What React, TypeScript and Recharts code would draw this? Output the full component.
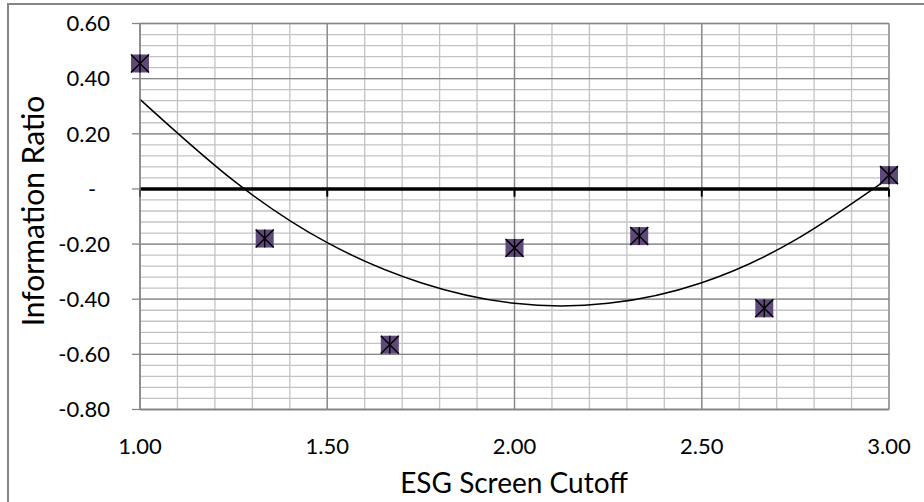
import React from "react";
import { ComposedChart, Scatter, Line, XAxis, YAxis, CartesianGrid, ReferenceLine } from "recharts";

// observed information ratios per ESG screen cutoff
const cutoffs = [1.0, 1.333, 1.667, 2.0, 2.333, 2.667, 3.0];
const infoRatio = [0.455, -0.18, -0.565, -0.214, -0.171, -0.433, 0.05];

// polynomial trendline
const trendX = [1.0, 1.25, 1.5, 1.75, 2.0, 2.25, 2.5, 2.75, 3.0];
const trendY = [0.325, 0.03, -0.195, -0.34, -0.415, -0.415, -0.34, -0.185, 0.04];

const xTicks = [1.0, 1.5, 2.0, 2.5, 3.0];
const yTicks = [0.6, 0.4, 0.2, 0, -0.2, -0.4, -0.6, -0.8];

// minor gridlines: 0.1 on x, 0.04 on y
const minorX = Array.from({ length: 21 }, (_, i) => +(1 + i * 0.1).toFixed(2));
const minorY = Array.from({ length: 36 }, (_, i) => +(-0.8 + i * 0.04).toFixed(2));

const points = cutoffs.map((x, i) => ({ x, y: infoRatio[i] }));
const trend = trendX.map((x, i) => ({ x, y: trendY[i] }));

const FONT = "Lato, 'Open Sans', sans-serif";
const MAJOR = "#868686";
const MINOR = "#c3c3c3";

const Marker = (props: any) => {
  const { cx, cy } = props;
  const h = 9;
  return (
    <g>
      <rect x={cx - h} y={cy - h} width={h * 2} height={h * 2} fill="#5f497a" />
      <line x1={cx - h} y1={cy - h} x2={cx + h} y2={cy + h} stroke="#000" strokeWidth={1.5} />
      <line x1={cx - h} y1={cy + h} x2={cx + h} y2={cy - h} stroke="#000" strokeWidth={1.5} />
      <line x1={cx} y1={cy - h} x2={cx} y2={cy + h} stroke="#000" strokeWidth={1.5} />
    </g>
  );
};

const fmtY = (v: number) => (Math.abs(v) < 1e-9 ? "-\u2002\u2009" : v.toFixed(2));

export default function App() {
  return (
    <div style={{ position: "absolute", left: 0, top: 0, width: 924, height: 502, background: "#fff", fontFamily: FONT, overflow: "hidden" }}>
      <div style={{ position: "absolute", left: 7, top: 3, width: 940, height: 520, border: `2px solid ${MAJOR}` }} />
      <ComposedChart width={924} height={502} margin={{ top: 23.5, right: 35, bottom: 62.5, left: 0 }}>
        <CartesianGrid stroke={MINOR} strokeWidth={1.3} horizontalValues={minorY} verticalValues={minorX} />
        <CartesianGrid stroke={MAJOR} strokeWidth={1.3} horizontalValues={yTicks} verticalValues={xTicks} />
        <XAxis
          type="number"
          dataKey="x"
          domain={[1, 3]}
          ticks={xTicks}
          interval={0}
          tickFormatter={(v: number) => v.toFixed(2)}
          axisLine={{ stroke: MAJOR, strokeWidth: 1.3 }}
          tickLine={false}
          tickSize={0}
          tickMargin={29}
          height={30}
          tick={{ fill: "#000", fontSize: 22, fontFamily: FONT }}
        />
        <YAxis
          type="number"
          dataKey="y"
          domain={[-0.8, 0.6]}
          ticks={yTicks}
          interval={0}
          allowDataOverflow
          tickFormatter={fmtY}
          axisLine={{ stroke: MAJOR, strokeWidth: 1.3 }}
          tickLine={{ stroke: MAJOR, strokeWidth: 1.3 }}
          tickSize={8}
          tickMargin={22}
          width={140}
          tick={{ fill: "#000", fontSize: 22, fontFamily: FONT }}
        />
        <ReferenceLine y={0} stroke="#000" strokeWidth={3.5} />
        {xTicks.map((v) => (
          <ReferenceLine key={v} segment={[{ x: v, y: 0 }, { x: v, y: -0.028 }]} stroke="#000" strokeWidth={2} />
        ))}
        <Line data={trend} dataKey="y" type="natural" stroke="#000" strokeWidth={1.5} dot={false} isAnimationActive={false} />
        <Scatter data={points} dataKey="y" shape={Marker} isAnimationActive={false} />
      </ComposedChart>
      <div style={{ position: "absolute", left: 32, top: 211, transform: "translate(-50%, -50%) rotate(-90deg)", whiteSpace: "nowrap", fontSize: 30, color: "#000" }}>
        Information Ratio
      </div>
      <div style={{ position: "absolute", left: 514, top: 482, transform: "translate(-50%, -50%)", whiteSpace: "nowrap", fontSize: 28, color: "#000" }}>
        ESG Screen Cutoff
      </div>
    </div>
  );
}
